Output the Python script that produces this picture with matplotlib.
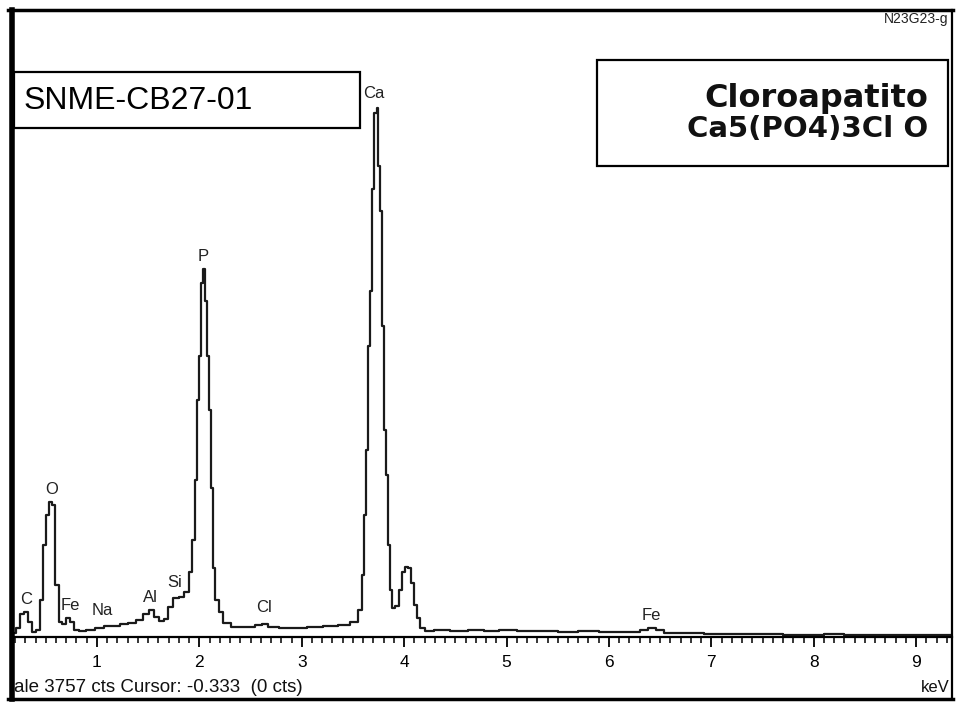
import matplotlib.pyplot as plt
from matplotlib.patches import Rectangle
from matplotlib.lines import Line2D
from matplotlib.ticker import MultipleLocator

# === EDS spectrum ===
energy_kev = [0.19, 0.23, 0.27, 0.31, 0.35, 0.38, 0.42, 0.46, 0.49, 0.52,
              0.55, 0.58, 0.61, 0.64, 0.68, 0.72, 0.76, 0.79, 0.85, 0.93,
              1.03, 1.11, 1.19, 1.26, 1.34, 1.42, 1.48, 1.53, 1.58, 1.63,
              1.67, 1.72, 1.77, 1.83, 1.88, 1.91, 1.94, 1.97, 1.99, 2.01,
              2.03, 2.05, 2.07, 2.08, 2.10, 2.12, 2.14, 2.17, 2.21, 2.26,
              2.35, 2.49, 2.59, 2.64, 2.71, 2.84, 2.98, 3.13, 3.28, 3.42,
              3.52, 3.57, 3.60, 3.62, 3.64, 3.66, 3.68, 3.70, 3.72, 3.74,
              3.75, 3.77, 3.79, 3.81, 3.83, 3.85, 3.87, 3.90, 3.93, 3.96,
              3.99, 4.02, 4.05, 4.08, 4.11, 4.14, 4.17, 4.23, 4.35, 4.55,
              4.70, 4.85, 5.00, 5.20, 5.40, 5.60, 5.80, 6.00, 6.15, 6.25,
              6.35, 6.42, 6.50, 6.58, 6.70, 6.85, 7.00, 7.20, 7.40, 7.60,
              7.80, 8.00, 8.20, 8.40, 8.60, 8.80, 9.00, 9.20, 9.35]
counts = [24, 54, 138, 150, 90, 30, 42, 222, 552, 732,
          810, 792, 312, 90, 78, 114, 90, 42, 36, 42,
          54, 66, 66, 78, 84, 102, 138, 162, 120, 96,
          108, 180, 234, 240, 270, 390, 582, 942, 1422, 1692,
          2130, 2214, 2022, 1692, 1362, 894, 414, 222, 150, 84,
          60, 60, 72, 78, 60, 54, 54, 60, 66, 72,
          90, 162, 372, 732, 1122, 1752, 2082, 2694, 3150, 3180,
          2832, 2562, 1872, 1242, 972, 552, 282, 174, 186, 282,
          390, 420, 414, 324, 192, 114, 54, 36, 42, 36,
          42, 36, 40, 34, 38, 32, 34, 30, 30, 30,
          42, 54, 42, 24, 26, 22, 20, 18, 20, 16,
          14, 14, 16, 14, 12, 12, 12, 12, 12]

# element labels: name, keV, counts (bottom of the text)
labels = ["C", "O", "Fe", "Na", "Al", "Si", "P", "Cl", "Ca", "Fe"]
label_kev = [0.31, 0.56, 0.74, 1.05, 1.52, 1.76, 2.035, 2.63, 3.705, 6.41]
label_cts = [180, 840, 144, 114, 192, 282, 2244, 132, 3222, 84]

full_scale = 3757
kev_ticks = [1, 2, 3, 4, 5, 6, 7, 8, 9]

plt.rcParams['font.family'] = ['Liberation Sans', 'DejaVu Sans']

W, H = 956, 702
fig = plt.figure(figsize=(W / 100, H / 100), dpi=100)
fig.patch.set_facecolor("white")

ax = fig.add_axes([14 / W, 65 / H, 938 / W, 625 / H])
ax.plot(energy_kev, counts, color="#1a1a1a", lw=1.6, drawstyle="steps-mid")
ax.set_xlim(0.19, 9.35)
ax.set_ylim(0, full_scale)

for side in ["top", "left", "right"]:
    ax.spines[side].set_visible(False)
ax.spines["bottom"].set_linewidth(1.6)
ax.set_yticks([])
ax.set_xticks(kev_ticks)
ax.xaxis.set_minor_locator(MultipleLocator(0.1))
ax.tick_params(axis="x", which="major", direction="out", length=7, width=1.3,
               labelsize=12.5, pad=6)
ax.tick_params(axis="x", which="minor", direction="out", length=4, width=1.1)
ax.patch.set_alpha(0)

for name, kx, ky in zip(labels, label_kev, label_cts):
    ax.text(kx, ky, name, ha="center", va="bottom", fontsize=12, color="#222222")

# bottom status line
fig.text(14 / W, 1 - 688 / H, "ale 3757 cts Cursor: -0.333  (0 cts)",
         ha="left", va="center", fontsize=13.5, color="#111111")
fig.text(950 / W, 1 - 688 / H, "keV", ha="right", va="center",
         fontsize=12, color="#111111")
fig.text(948 / W, 1 - 19 / H, "N23G23-g", ha="right", va="center",
         fontsize=10, color="#222222")

# sample box
fig.add_artist(Rectangle((14 / W, 1 - 128 / H), 346 / W, 56 / H,
                         transform=fig.transFigure, fill=False, lw=1.6,
                         edgecolor="black"))
fig.text(24 / W, 1 - 101 / H, "SNME-CB27-01", ha="left", va="center",
         fontsize=23, color="black")

# mineral box
fig.add_artist(Rectangle((597 / W, 1 - 166 / H), 351 / W, 106 / H,
                         transform=fig.transFigure, fill=False, lw=1.6,
                         edgecolor="black"))
fig.text(928 / W, 1 - 99 / H, "Cloroapatito", ha="right", va="center",
         fontsize=23, fontweight="bold", family=["DejaVu Sans"], color="#111111")
fig.text(928 / W, 1 - 129 / H, "Ca5(PO4)3Cl O", ha="right", va="center",
         fontsize=21, fontweight="bold", family=["DejaVu Sans"], color="#111111")

# outer frame
fig.add_artist(Line2D([8 / W, 953 / W], [1 - 10 / H, 1 - 10 / H], color="black", lw=2.5))
fig.add_artist(Line2D([8 / W, 953 / W], [1 - 699 / H, 1 - 699 / H], color="black", lw=2.5))
fig.add_artist(Line2D([12 / W, 12 / W], [1 - 10 / H, 1 - 699 / H], color="black", lw=4))
fig.add_artist(Line2D([952 / W, 952 / W], [1 - 10 / H, 1 - 699 / H], color="black", lw=1.6))

fig.savefig("out.png", dpi=100)
